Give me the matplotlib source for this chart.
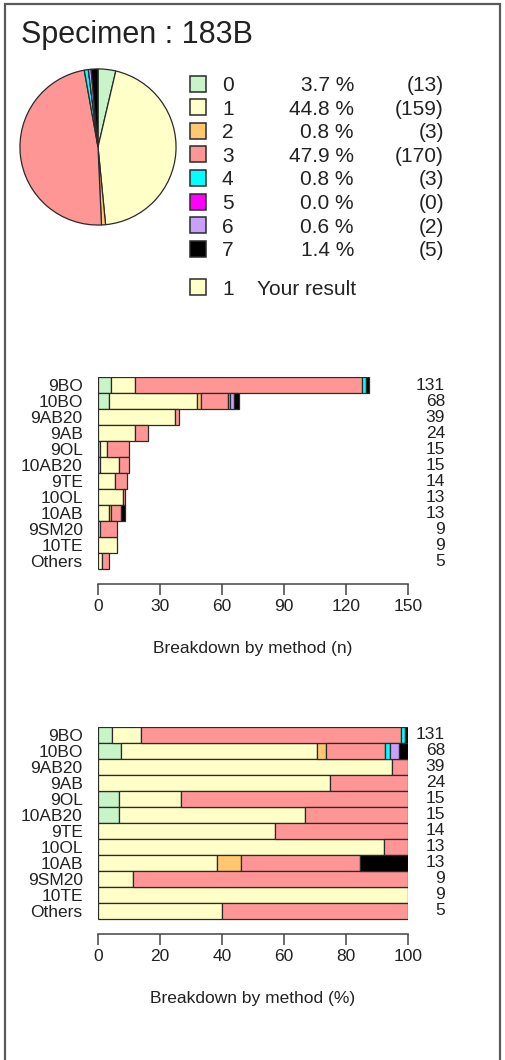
import numpy as np
import matplotlib
matplotlib.use("Agg")
import matplotlib.pyplot as plt
from matplotlib.patches import Rectangle
from matplotlib.transforms import blended_transform_factory

plt.rcParams['font.family'] = ['Liberation Sans', 'DejaVu Sans']

specimen = "183B"
your_result = 1
categories = ['0', '1', '2', '3', '4', '5', '6', '7']
colors = ['#c8f5c8', '#ffffc8', '#ffc870', '#ff9696', '#00ffff', '#ff00ff', '#c8a0ff', '#000000']

methods = ['9BO', '10BO', '9AB20', '9AB', '9OL', '10AB20', '9TE', '10OL', '10AB', '9SM20', '10TE', 'Others']
# counts per category for each method
cat0 = [6, 5, 0, 0, 1, 1, 0, 0, 0, 0, 0, 0]
cat1 = [12, 43, 37, 18, 3, 9, 8, 12, 5, 1, 9, 2]
cat2 = [0, 2, 0, 0, 0, 0, 0, 0, 1, 0, 0, 0]
cat3 = [110, 13, 2, 6, 11, 5, 6, 1, 5, 8, 0, 3]
cat4 = [2, 1, 0, 0, 0, 0, 0, 0, 0, 0, 0, 0]
cat5 = [0, 0, 0, 0, 0, 0, 0, 0, 0, 0, 0, 0]
cat6 = [0, 2, 0, 0, 0, 0, 0, 0, 0, 0, 0, 0]
cat7 = [1, 2, 0, 0, 0, 0, 0, 0, 2, 0, 0, 0]

counts = np.array([cat0, cat1, cat2, cat3, cat4, cat5, cat6, cat7], dtype=float)
totals = counts.sum(axis=0)
cat_totals = counts.sum(axis=1)
pcts = 100 * cat_totals / cat_totals.sum()

W, H = 506, 1060
fig = plt.figure(figsize=(W / 100, H / 100), dpi=100)


def fx(x):
    return x / W


def fy(y):
    return 1 - y / H


ink = '#222222'

# frame round the whole thing
fig.patches.append(Rectangle((fx(5), fy(1070)), fx(500) - fx(5), fy(4) - fy(1070),
                             transform=fig.transFigure, fill=False,
                             edgecolor='#5a5a5a', lw=1.6))

fig.text(fx(21), fy(43), "Specimen : " + specimen, fontsize=22, color=ink, va='baseline')

# pie
pax = fig.add_axes([fx(18), fy(227), 160 / W, 160 / H])
pax.pie(cat_totals, colors=colors, startangle=90, counterclock=False,
        wedgeprops=dict(edgecolor='#2a2a2a', linewidth=0.9))
pax.set_xlim(-1.025, 1.025)
pax.set_ylim(-1.025, 1.025)
pax.set_aspect('auto')
pax.axis('off')

# pie legend
row_y = 83.5
for i, cat in enumerate(categories):
    y = row_y + i * 23.6
    fig.patches.append(Rectangle((fx(190.5), fy(y + 8)), 16 / W, 16 / H,
                                 transform=fig.transFigure, facecolor=colors[i],
                                 edgecolor='#2a2a2a', lw=1.1))
    fig.text(fx(222), fy(y + 7.5), cat, fontsize=15, color=ink, va='baseline')
    fig.text(fx(354), fy(y + 7.5), "%.1f %%" % pcts[i], fontsize=15, color=ink,
             va='baseline', ha='right')
    fig.text(fx(444), fy(y + 7.5), "(%d)" % cat_totals[i], fontsize=15, color=ink,
             va='baseline', ha='right')

y = 287
fig.patches.append(Rectangle((fx(190.5), fy(y + 8)), 16 / W, 16 / H,
                             transform=fig.transFigure, facecolor=colors[your_result],
                             edgecolor='#2a2a2a', lw=1.1))
fig.text(fx(222), fy(y + 7.5), str(your_result), fontsize=15, color=ink, va='baseline')
fig.text(fx(257), fy(y + 7.5), "Your result", fontsize=15, color=ink, va='baseline')


def stacked(ax, data, xmax, ticks, xlabel, label_y):
    left = np.zeros(len(methods))
    rows = np.arange(len(methods))
    for i in range(len(categories)):
        vals = data[i]
        m = vals > 0
        ax.barh(rows[m], vals[m], left=left[m], height=1.0, color=colors[i],
                edgecolor='#2a2a2a', linewidth=0.9)
        left = left + vals
    ax.set_xlim(0, xmax)
    ax.set_ylim(12.42, -0.5)
    for s in ['top', 'right', 'left']:
        ax.spines[s].set_visible(False)
    ax.spines['bottom'].set_color('#444444')
    ax.spines['bottom'].set_linewidth(1.1)
    ax.set_xticks(ticks)
    ax.tick_params(axis='x', direction='out', length=8, width=1.1, color='#444444',
                   pad=3, labelsize=12.5, labelcolor=ink)
    ax.set_yticks(rows)
    ax.set_yticklabels(methods)
    ax.tick_params(axis='y', length=0, pad=11.2, labelsize=12.5, labelcolor=ink)
    tr = blended_transform_factory(ax.transAxes, ax.transData)
    for r, t in zip(rows, totals):
        ax.text(1.1206, r, "%d" % t, transform=tr, ha='right', va='center',
                fontsize=12.5, color=ink)
    fig.text(fx(253), fy(label_y), xlabel, fontsize=12.5, color=ink,
             ha='center', va='baseline')


ax1 = fig.add_axes([fx(98.3), fy(584), (407.7 - 98.3) / W, (584 - 377.3) / H])
stacked(ax1, counts, 150, [0, 30, 60, 90, 120, 150], "Breakdown by method (n)", 653)

ax2 = fig.add_axes([fx(98.3), fy(933.5), (407.7 - 98.3) / W, (933.5 - 726.7) / H])
stacked(ax2, 100 * counts / totals, 100, [0, 20, 40, 60, 80, 100],
        "Breakdown by method (%)", 1003)

fig.savefig("out.png", dpi=100)
